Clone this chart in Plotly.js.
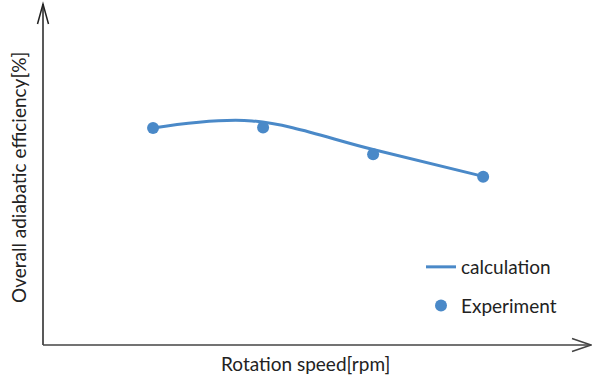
<!DOCTYPE html>
<html>
<head>
<meta charset="utf-8">
<script src="https://cdn.plot.ly/plotly-3.0.1.min.js"></script>
<style>html,body{margin:0;padding:0;background:#fff}#chart{width:592px;height:380px}</style>
</head>
<body>
<div id="chart"></div>
<script>
// Data (relative units, no tick labels shown)
const calcSpeed = [1, 1.9, 3, 4];
const calcEff   = [63.8, 65.9, 57.5, 49.6];
const expSpeed  = [1, 2, 3, 4];
const expEff    = [63.8, 64.0, 56.1, 49.5];
const xTitle = "Rotation speed[rpm]";
const yTitle = "Overall adiabatic efficiency[%]";
const seriesNames = ["calculation", "Experiment"];

const blue = "#4a89c8";
const font = "Lato, 'Open Sans', sans-serif";

const W = 592, H = 380, L = 43, R = 1, T = 5, B = 35;
const pw = W - L - R, ph = H - T - B;
const px = v => (v - L) / pw;
const py = v => (H - B - v) / ph;

const traces = [
  {x: calcSpeed, y: calcEff, mode: "lines", name: seriesNames[0], legendgroup: "calc",
   line: {color: blue, width: 3, shape: "spline", smoothing: 1}},
  {x: expSpeed, y: expEff, mode: "markers", name: seriesNames[1], legendgroup: "exp",
   marker: {color: blue, size: 12}}
];

const axColor = "#222";
const layout = {
  width: W, height: H,
  margin: {l: L, r: R, t: T, b: B},
  paper_bgcolor: "#fff", plot_bgcolor: "#fff",
  font: {family: font, size: 15, color: "#222"},
  xaxis: {range: [0, 4.98], showgrid: false, zeroline: false, showticklabels: false, ticks: "",
          showline: false},
  yaxis: {range: [0, 100], showgrid: false, zeroline: false, showticklabels: false, ticks: "",
          showline: false},
  showlegend: true,
  legend: {x: px(421), y: py(248), xanchor: "left", yanchor: "top",
           font: {family: font, size: 19, color: "#222"},
           traceorder: "grouped", tracegroupgap: 11, bgcolor: "rgba(0,0,0,0)"},
  shapes: [
    {type: "line", xref: "paper", yref: "paper", x0: px(43), y0: py(345), x1: px(43), y1: py(4), line: {color: axColor, width: 1.5}},
    {type: "line", xref: "paper", yref: "paper", x0: px(43), y0: py(345), x1: px(591), y1: py(345), line: {color: "#444", width: 1.5}},
    {type: "path", xref: "paper", yref: "paper",
     path: `M ${px(37.5)} ${py(24)} L ${px(43)} ${py(4)} L ${px(48.5)} ${py(24)}`, line: {color: axColor, width: 1.5}},
    {type: "path", xref: "paper", yref: "paper",
     path: `M ${px(572)} ${py(338.5)} L ${px(591)} ${py(345)} L ${px(572)} ${py(351.5)}`, line: {color: "#444", width: 1.5}}
  ],
  annotations: [
    {text: xTitle, xref: "paper", yref: "paper", x: px(305), y: py(363), xanchor: "center", yanchor: "middle",
     showarrow: false, font: {family: font, size: 19, color: "#222"}},
    {text: yTitle, xref: "paper", yref: "paper", x: px(18), y: py(178), xanchor: "center", yanchor: "middle",
     textangle: -90, showarrow: false, font: {family: font, size: 19, color: "#222"}}
  ]
};

Plotly.newPlot("chart", traces, layout, {staticPlot: true, displayModeBar: false});
</script>
</body>
</html>
